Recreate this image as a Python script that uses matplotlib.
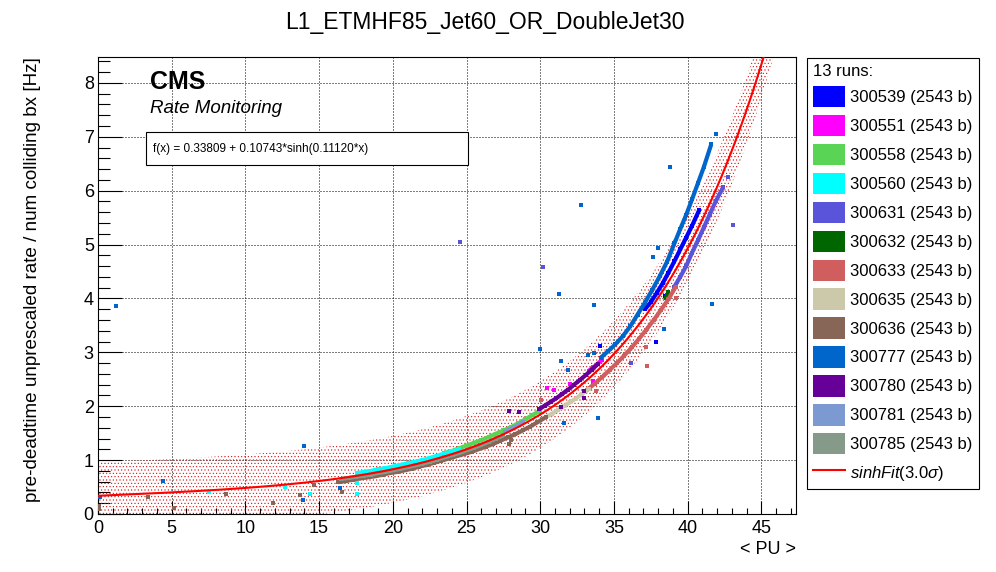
import numpy as np
import matplotlib
matplotlib.use("Agg")
import matplotlib.pyplot as plt
from matplotlib.patches import Patch, Rectangle
from matplotlib.lines import Line2D
from matplotlib.ticker import MultipleLocator

plt.rcParams['font.family'] = ['Liberation Sans', 'DejaVu Sans']
plt.rcParams['mathtext.fontset'] = 'custom'
plt.rcParams['mathtext.rm'] = 'Liberation Sans'
plt.rcParams['mathtext.it'] = 'Liberation Sans:italic'
plt.rcParams['hatch.linewidth'] = 0.4

title = "L1_ETMHF85_Jet60_OR_DoubleJet30"
xlabel = "< PU >"
ylabel = "pre-deadtime unprescaled rate / num colliding bx [Hz]"

# fit shown on the plot: f(x) = p0 + p1*sinh(p2*x), band = +-3 sigma
p0, p1, p2 = 0.33809, 0.10743, 0.11120
sigma = 0.207

runs = ["300539", "300551", "300558", "300560", "300631", "300632", "300633",
        "300635", "300636", "300777", "300780", "300781", "300785"]
bunches = 2543
colors = ["#0000ff", "#ff00ff", "#59d454", "#00ffff", "#5954d9", "#006600", "#d05e5e",
          "#ccc8aa", "#876657", "#0066cc", "#660099", "#7d99d1", "#869a89"]

# ---- data (track = dense run, o = stray points) ----
r300539_x = [37.1, 37.5, 37.9, 38.3, 38.7, 39.1, 39.5, 39.9, 40.3, 40.8]
r300539_y = [3.80, 3.93, 4.10, 4.28, 4.48, 4.69, 4.91, 5.13, 5.35, 5.65]
r300539_ox = [38.45, 37.86, 34.04]
r300539_oy = [4.04, 3.19, 3.12]

r300551_x = [33.3, 33.6, 33.9, 34.2]
r300551_y = [2.66, 2.72, 2.79, 2.86]
r300551_ox = [30.43, 30.93, 32.04, 33.56]
r300551_oy = [2.33, 2.30, 2.42, 2.47]

r300558_x = [23.5, 24, 24.5, 25, 25.5, 26, 26.5, 27, 27.5, 28, 28.5, 29, 29.5, 30]
r300558_y = [1.13, 1.17, 1.22, 1.27, 1.32, 1.37, 1.43, 1.49, 1.55, 1.61, 1.68, 1.76, 1.84, 1.92]
r300558_ox = []
r300558_oy = []

r300560_x = [17.6, 18, 18.5, 19, 19.5, 20, 20.5, 21, 21.5, 22, 22.5, 23, 23.5, 24, 24.5]
r300560_y = [0.76, 0.78, 0.80, 0.83, 0.85, 0.88, 0.91, 0.94, 0.97, 1.00, 1.04, 1.08, 1.12, 1.16, 1.20]
r300560_ox = [7.54, 12.68, 14.38, 17.55, 17.55]
r300560_oy = [0.40, 0.50, 0.37, 0.58, 0.38]

r300631_x = [39.1, 39.5, 39.9, 40.3, 40.7, 41.1, 41.5, 41.9, 42.4]
r300631_y = [4.22, 4.40, 4.60, 4.85, 5.08, 5.32, 5.56, 5.80, 6.06]
r300631_ox = [24.59, 30.18, 42.71, 43.09, 36.19]
r300631_oy = [5.05, 4.58, 6.26, 5.36, 2.81]

r300632_x = [38.5, 38.6, 38.7]
r300632_y = [4.00, 4.06, 4.12]
r300632_ox = []
r300632_oy = []

r300633_x = [33.2, 33.7, 34.2, 34.7, 35.2, 35.7, 36.2, 36.7, 37.2, 37.7, 38.2, 38.7, 39.2]
r300633_y = [2.31, 2.42, 2.54, 2.67, 2.80, 2.94, 3.09, 3.25, 3.42, 3.60, 3.79, 3.99, 4.22]
r300633_ox = [37.16, 37.25, 30.03, 33.78, 39.2]
r300633_oy = [3.09, 2.74, 2.12, 2.28, 4.00]

r300635_x = [30.4, 30.8, 31.2, 31.6, 32.0, 32.4, 32.8, 33.3]
r300635_y = [1.80, 1.86, 1.93, 2.00, 2.07, 2.14, 2.22, 2.32]
r300635_ox = []
r300635_oy = []

r300636_x = [16.3, 16.8, 17.3, 17.8, 18.3, 18.8, 19.3, 19.8, 20.3, 20.8, 21.3, 21.8, 22.3, 22.8, 23.3,
             23.8, 24.3, 24.8, 25.3, 25.8, 26.3, 26.8, 27.3, 27.8, 28.3, 28.8, 29.3, 29.8, 30.4]
r300636_y = [0.59, 0.61, 0.64, 0.66, 0.68, 0.70, 0.73, 0.76, 0.78, 0.81, 0.84, 0.88, 0.91, 0.95, 0.99,
             1.03, 1.07, 1.11, 1.15, 1.20, 1.25, 1.30, 1.36, 1.42, 1.48, 1.55, 1.62, 1.70, 1.80]
r300636_ox = [0.07, 0.07, 3.40, 5.16, 8.68, 11.89, 13.72, 14.63, 16.53, 27.87, 28.04]
r300636_oy = [0.15, 0.09, 0.31, 0.12, 0.38, 0.20, 0.35, 0.53, 0.40, 1.29, 1.37]

r300777_x = [34.1, 34.6, 35.1, 35.6, 36.1, 36.6, 37.1, 37.6, 38.1, 38.6, 39.1, 39.5, 39.9,
             40.3, 40.7, 41.1, 41.6]
r300777_y = [2.90, 3.02, 3.15, 3.30, 3.48, 3.70, 3.92, 4.16, 4.41, 4.68, 5.02, 5.29, 5.55,
             5.84, 6.14, 6.44, 6.86]
r300777_ox = [1.20, 13.95, 4.44, 0.14, 13.88, 16.42, 41.92, 38.79, 32.77, 31.27, 33.65, 38.0,
              37.66, 41.66, 38.4, 29.98, 31.39, 31.88, 33.24, 33.65, 33.92, 31.61]
r300777_oy = [3.86, 1.27, 0.61, 0.31, 0.26, 0.48, 7.06, 6.43, 5.73, 4.08, 3.87, 4.93,
              4.76, 3.89, 3.44, 3.07, 2.83, 2.67, 2.95, 2.98, 1.79, 1.68]

r300780_x = [29.9, 30.3, 30.7, 31.1, 31.5, 31.9, 32.3, 32.7, 33.1, 33.5, 33.9]
r300780_y = [1.94, 2.01, 2.08, 2.15, 2.23, 2.31, 2.40, 2.49, 2.58, 2.68, 2.78]
r300780_ox = [27.87, 28.55, 31.43, 32.97, 32.97]
r300780_oy = [1.91, 1.89, 1.99, 2.15, 2.28]

r300781_x = [27.6, 27.9, 28.2, 28.5, 28.8]
r300781_y = [1.53, 1.57, 1.61, 1.65, 1.70]
r300781_ox = []
r300781_oy = []

r300785_x = [16.5, 17, 17.5, 18, 18.5, 19, 19.5, 20, 20.5, 21, 21.5, 22, 22.5, 23, 23.5,
             24, 24.5, 25, 25.5, 26, 26.5, 27, 27.5]
r300785_y = [0.65, 0.67, 0.69, 0.71, 0.73, 0.76, 0.78, 0.81, 0.84, 0.87, 0.90, 0.93, 0.97, 1.01, 1.05,
             1.09, 1.13, 1.18, 1.23, 1.28, 1.34, 1.40, 1.46]
r300785_ox = []
r300785_oy = []

tracks = [
    (r300539_x, r300539_y, r300539_ox, r300539_oy),
    (r300551_x, r300551_y, r300551_ox, r300551_oy),
    (r300558_x, r300558_y, r300558_ox, r300558_oy),
    (r300560_x, r300560_y, r300560_ox, r300560_oy),
    (r300631_x, r300631_y, r300631_ox, r300631_oy),
    (r300632_x, r300632_y, r300632_ox, r300632_oy),
    (r300633_x, r300633_y, r300633_ox, r300633_oy),
    (r300635_x, r300635_y, r300635_ox, r300635_oy),
    (r300636_x, r300636_y, r300636_ox, r300636_oy),
    (r300777_x, r300777_y, r300777_ox, r300777_oy),
    (r300780_x, r300780_y, r300780_ox, r300780_oy),
    (r300781_x, r300781_y, r300781_ox, r300781_oy),
    (r300785_x, r300785_y, r300785_ox, r300785_oy),
]

xmax, ymax = 47.35, 8.48

fig = plt.figure(figsize=(9.96, 5.72), dpi=100)
ax = fig.add_axes([98 / 996, 58 / 572, 698 / 996, 457 / 572])

def fit(x):
    return p0 + p1 * np.sinh(p2 * x)

xf = np.linspace(0, xmax, 500)
ax.fill_between(xf, fit(xf) - 3 * sigma, fit(xf) + 3 * sigma, facecolor='none',
                edgecolor='#d01010', linewidth=0, hatch='.....', zorder=1)

for (tx, ty, ox, oy), c in zip(tracks, colors):
    if len(tx):
        ax.plot(tx, ty, color=c, lw=3.0, marker='s', ms=3.0, mew=0,
                solid_capstyle='butt', zorder=3)
    if len(ox):
        ax.plot(ox, oy, ls='none', marker='s', ms=2.5, mew=0, color=c, zorder=3)

ax.plot(xf, fit(xf), color='red', lw=1.5, zorder=4)

ax.set_xlim(0, xmax)
ax.set_ylim(0, ymax)
ax.xaxis.set_major_locator(MultipleLocator(5))
ax.xaxis.set_minor_locator(MultipleLocator(1))
ax.yaxis.set_major_locator(MultipleLocator(1))
ax.yaxis.set_minor_locator(MultipleLocator(0.2))
ax.tick_params(which='both', direction='in', top=False, right=False, labelsize=13, width=0.8)
ax.tick_params(axis='x', which='major', length=9.4, pad=4)
ax.tick_params(axis='x', which='minor', length=4.5)
ax.tick_params(axis='y', which='major', length=17, pad=3)
ax.tick_params(axis='y', which='minor', length=8.6)
ax.grid(True, which='major', color='black', lw=0.72, linestyle=(0, (1, 2)), zorder=0)
ax.set_axisbelow(True)
for s in ax.spines.values():
    s.set_linewidth(0.8)

ax.text(0.0745, 0.945, "CMS", transform=ax.transAxes, fontsize=18, fontweight='bold',
        va='center', ha='left')
ax.text(0.0745, 0.888, "Rate Monitoring", transform=ax.transAxes, fontsize=13.5,
        style='italic', va='center', ha='left')
ax.add_patch(Rectangle((0.0688, 0.763), 0.4612, 0.072, transform=ax.transAxes,
                       facecolor='white', edgecolor='black', lw=0.8, zorder=5))
ax.text(0.0788, 0.799, "f(x) = %.5f + %.5f*sinh(%.5f*x)" % (p0, p1, p2),
        transform=ax.transAxes, fontsize=8.5, va='center', ha='left', zorder=6)

fig.text(485 / 996, 1 - 22 / 572, title, ha='center', va='center', fontsize=16.5)
fig.text(33 / 996, 1 - 57 / 572, ylabel, rotation=90, ha='center', va='top', fontsize=13.6)
fig.text(796 / 996, 1 - 549 / 572, xlabel, ha='right', va='center', fontsize=13)

handles = [Patch(facecolor=c, edgecolor='none') for c in colors]
labels = ["%s (%d b)" % (r, bunches) for r in runs]
handles.append(Line2D([], [], color='red', lw=1.5))
labels.append(r"$\it{sinhFit}$(3.0$\sigma$)")
leg = fig.legend(handles, labels, loc='upper left',
                 bbox_to_anchor=(806.7 / 996, 1 - 57.7 / 572), bbox_transform=fig.transFigure,
                 title="13 runs:", alignment='left', fontsize=12, title_fontsize=12,
                 frameon=True, fancybox=False, edgecolor='black', framealpha=1,
                 borderpad=0.35, handlelength=1.92, handleheight=1.6, handletextpad=0.35,
                 labelspacing=0.45, borderaxespad=0)
leg.get_frame().set_linewidth(0.8)

fig.savefig("out.png", dpi=100)
